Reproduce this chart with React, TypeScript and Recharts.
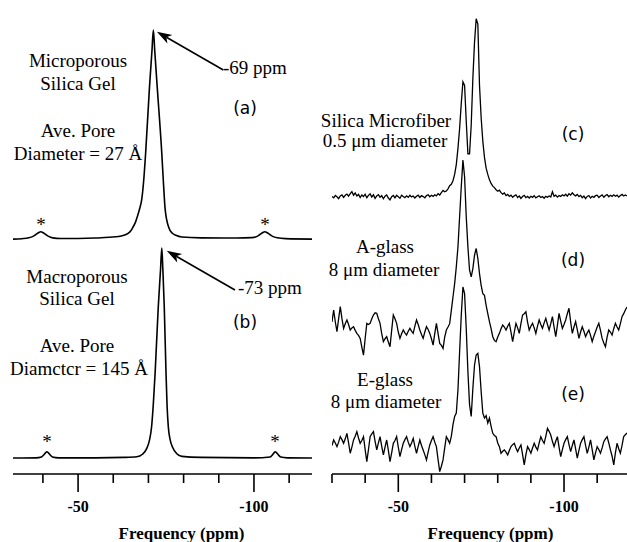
import { LineChart, Line, XAxis, YAxis, ReferenceLine } from "recharts";

const SERIF = "'Liberation Serif', 'Times New Roman', serif";
const SANS = "'DejaVu Sans', Verdana, sans-serif";

const leftTicks = [-40, -50, -60, -70, -80, -90, -100, -110];
const rightTicks = [-30, -40, -50, -60, -70, -80, -90, -100, -110];
const majorTicks = [-50, -100];

// (a) microporous silica gel
const aPpm = [
  -31.5, -34, -36, -37.2, -38, -38.7, -39.4, -40.1, -40.8, -41.6, -42.8, -45, -50, -55, -59,
  -61.5, -63, -64.2, -65, -65.6, -66.3, -66.9, -67.5, -68.1, -68.7, -69.2, -70.3, -71.0,
  -71.4, -71.8, -72.5, -73.8, -74.3, -74.7, -75.1, -75.6, -76.1, -76.8, -77.8, -79.5, -85,
  -95, -99.4, -100.9, -101.7, -102.4, -103.1, -103.8, -104.5, -105.3, -106.6, -109, -116.5,
];
const aInt = [
  0, 0.2, 0.6, 1.3, 2.2, 3.0, 3.5, 3.0, 2.2, 1.3, 0.6, 0.3, 0.3, 0.5, 0.9,
  1.2, 1.8, 2.7, 4.0, 5.7, 8, 11, 14.5, 19, 29, 41, 72.7, 90,
  100, 90, 72.7, 41, 26, 15.3, 10, 6.5, 4.3, 2.8, 1.8, 1.0, 0.6,
  0.5, 0.7, 1.3, 2.2, 3.0, 3.5, 3.0, 2.2, 1.3, 0.6, 0.2, 0,
];

// (b) macroporous silica gel
const bPpm = [
  -31.5, -38, -39.6, -40.3, -40.8, -41.1, -41.5, -42.0, -42.7, -44.5, -55, -63, -66.7, -68.3,
  -69.5, -70.3, -70.9, -71.4, -71.9, -72.8, -73.45, -73.8, -74.1, -74.5, -75.0, -75.3, -75.65,
  -76.2, -76.8, -78, -79.5, -85, -100, -104.6, -105.3, -105.75, -106.05, -106.4, -106.9,
  -107.6, -109.5, -116.5,
];
const bInt = [
  0, 0.1, 0.5, 1.6, 2.6, 3.0, 2.6, 1.6, 0.5, 0.1, 0.1, 0.3, 0.6, 1.8,
  4.5, 8.5, 14.9, 26, 40.5, 72, 90, 100, 90, 72, 40.5, 25, 14.9,
  8.5, 5.4, 2.2, 0.8, 0.3, 0.1, 0.5, 1.6, 2.6, 3.0, 2.6, 1.6,
  0.5, 0.1, 0,
];

// fibres, sampled every 0.5 ppm from -30 to -119
const rightStart = -30;
const rightStep = 0.5;

const cInt = [
  0.3, -0.5, 0.8, 0.1, -0.9, 0.6, 1.2, -0.2, 0.9, 1.6,
  0.4, 1.8, 2.9, 1.0, 2.2, 0.5, 1.4, -0.3, 1.1, 0.2,
  1.5, -0.4, 0.9, 1.7, 0.0, 1.2, -0.8, 0.6, 1.3, -0.2,
  0.7, -1.0, 0.4, 1.1, -0.6, -1.6, 0.2, 0.8, -0.5, 0.9,
  0.1, -0.7, 1.0, 0.3, -0.4, 0.6, -0.2, 0.9, 0.0, 0.5,
  -0.6, 0.4, 1.0, -0.3, 0.7, 0.2, -0.5, 0.8, 1.2, 0.1,
  0.9, 0.3, 1.2, 0.6, 1.8, 1.1, 2.4, 3.6, 2.9, 3.3,
  4.5, 6.2, 7.0, 9.0, 12.5, 18, 27, 38, 52, 64,
  62, 42, 24, 24, 40, 66, 86, 99, 96, 62,
  44, 31, 22, 16, 12.5, 9.5, 7.5, 6.0, 5.2, 4.0,
  3.2, 3.8, 2.4, 1.6, 2.2, 0.8, 1.4, 0.3, 1.0, -0.2,
  0.6, 1.2, -0.3, 0.5, -0.8, 0.2, 0.9, -0.4, 0.3, -0.6,
  0.4, -0.2, 0.7, -0.5, 0.1, 0.6, -0.3, 0.2, -0.7, 0.3,
  -0.2, 0.5, 0.0, 2.9, 0.4, 1.0, -0.1, 0.8, 0.3, 1.2,
  0.6, 1.5, 0.4, 1.8, 1.0, 2.3, 1.2, 0.6, 1.4, 0.2,
  0.9, -0.4, 0.5, -0.9, 0.3, 0.8, -0.6, 0.4, -0.2, 0.7,
  1.0, -0.3, 0.5, 1.1, -0.2, 0.8, 1.3, 0.1, 0.9, 0.3,
  1.2, 0.4, 1.0, -0.1, 0.8, 1.4, 0.5, 1.1, 0.6,
];

const dInt = [
  3, 10.2, 3, -2.8, 5, 12.2, 5, -0.8, 2, 4.2,
  1.5, -1.8, -0.5, 0.2, -2, -3.8, -5, -6.8, -12, -16.8,
  -7, 2.2, 1.5, 2.2, 5, 7.2, 8.5, 8.2, 5, 2.2,
  -4, -8.8, -7, -5.8, -9, -11.8, -2, 7.2, 5, 2.2,
  -3, -6.8, -4, -1.8, -3.5, -4.8, -2.5, -0.8, -2.5, -3.8,
  0.5, 4.2, 1.5, -1.8, -4.5, -6.8, -3, 0.2, -1.5, -3.8,
  -7, -10.8, -4, 2.2, -4, -9.8, -11, -12.8, -6, -1.8,
  0, 2, 10, 18, 26, 36, 48, 66, 84, 100,
  90, 66, 48, 34, 30, 35, 43, 47, 41, 32,
  25, 20, 19, 13, 8, 3.2, -1, -5.8, -8, -8.8,
  -6, -3.8, -1, 1.2, 0, -1.8, 0.5, 2.2, -3, -8.8,
  -3, 2.2, -0.5, -3.8, 2, 7.2, 8, 9.2, 3, -1.8,
  0.5, 2.2, -0.5, -3.8, 0.5, 4.2, 1.5, -0.8, 2.5, 5.2,
  1.5, -1.8, 2, 6.2, 0, -5.8, 1, 8.2, 3.5, -0.8,
  1.5, 4.2, 8, 11.2, 3, -3.8, 0, 3.2, -1.5, -6.8,
  -3, 0.2, -2.5, -5.8, -3.5, -1.8, -5, -8.8, -5.5, -2.8,
  0, 2.2, -2, -6.8, -9.5, -11.8, -6, -1.8, -3, -4.8,
  -1, 2.2, 0, -1.8, 2, 6.2, 8, 10.2, 12,
];

const eInt = [
  1.5, 4.8, 3, 0.8, 3.5, 6.8, 5, 2.8, 5.5, 8.8,
  3, -3.2, 0.5, 4.8, 7, 9.8, 6, 2.8, 4.5, 6.8,
  -1, -8.2, -1, 6.8, 8.5, 9.8, 4, -1.2, 3, 6.8,
  1, -4.2, 0.5, 4.8, -1.5, -8.2, -3, 2.8, 4.5, 6.8,
  0.5, -5.2, -1, 2.8, 5, 6.8, 3.5, 0.8, 3, 5.8,
  1, -3.2, 1, 4.8, 1.5, -1.2, -4, -7.2, -2.5, 1.8,
  4.5, 6.8, 3.5, 0.8, -7, -14.3, -11, -7.2, 0, 6.8,
  5, 2.8, 7, 14, 19, 21, 35, 58, 80, 97,
  93, 72, 46, 26, 19, 36, 50, 56, 57, 49,
  34, 21, 18, 19.5, 15, 18, 13, 8.8, 7.5, 6.8,
  3, 0.8, -3.2, -2, -1.2, -2.5, -4.2, -1.5, 0.8, 2,
  2.8, 0, -2.2, 0, 1.8, -4, -10.2, -4, 0.8, -1,
  -3.2, 0, 2.8, 0.5, -1.2, 3, 6.8, 4.5, 2.8, 7,
  11.8, 10, 7.8, 4, 0.8, 4, 6.8, 0.5, -5.2, -1,
  2.8, 5, 6.8, 2, -2.2, 1.5, 4.8, -0.5, -6.2, -1.5,
  2.8, 5, 6.8, 1.5, -3.2, 0.5, 4.8, -1, -7.2, -3,
  0.8, -1, -3.2, 0, 3.8, 5.5, 6.8, 3, -1.2, -5,
  -10.2, -3, 2.8, -0.5, -3.2, 1.5, 6.8, 8, 9,
];

const aData = aPpm.map((ppm, i) => ({ ppm, v: aInt[i] }));
const bData = bPpm.map((ppm, i) => ({ ppm, v: bInt[i] }));
const rightData = cInt.map((c, i) => ({
  ppm: rightStart - i * rightStep,
  c,
  d: dInt[i],
  e: eInt[i],
}));

function FreqTick({ x, y, payload }: any) {
  const major = majorTicks.includes(payload.value);
  return (
    <g>
      <line x1={x} x2={x} y1={y} y2={y + (major ? 18 : 9)} stroke="#000" strokeWidth={1.6} />
      {major && (
        <text
          x={x}
          y={y + 38}
          textAnchor="middle"
          fontFamily={SERIF}
          fontWeight="bold"
          fontSize={16}
          fill="#000"
        >
          {payload.value}
        </text>
      )}
    </g>
  );
}

function Arrow(props: any) {
  const { x1, y1, x2, y2 } = props;
  const ang = Math.atan2(y2 - y1, x2 - x1);
  const len = 15;
  const half = 5;
  const bx = x2 - len * Math.cos(ang);
  const by = y2 - len * Math.sin(ang);
  const nx = bx + 4 * Math.cos(ang);
  const ny = by + 4 * Math.sin(ang);
  const px = -Math.sin(ang) * half;
  const py = Math.cos(ang) * half;
  return (
    <g>
      <line x1={x1} y1={y1} x2={nx} y2={ny} stroke="#000" strokeWidth={1.6} />
      <polygon
        points={`${x2},${y2} ${bx + px},${by + py} ${nx},${ny} ${bx - px},${by - py}`}
        fill="#000"
      />
    </g>
  );
}

const axisLabel = (dx: number) => ({
  value: "Frequency (ppm)",
  position: "insideBottom" as const,
  offset: 3,
  dx,
  fill: "#000",
  fontSize: 17,
  fontWeight: "bold",
  fontFamily: SERIF,
});

const serifText = { fontFamily: SERIF, fontSize: 19, fill: "#000" };
const sansText = { fontFamily: SANS, fontSize: 17, fill: "#000" };

export default function App() {
  return (
    <div
      style={{
        position: "absolute",
        left: 0,
        top: 0,
        width: 627,
        height: 542,
        background: "#fff",
        overflow: "hidden",
      }}
    >
      <div style={{ position: "absolute", left: 0, top: 0 }}>
        <LineChart width={320} height={542} margin={{ top: 0, right: 8, bottom: 0, left: 13 }}>
          <XAxis
            type="number"
            dataKey="ppm"
            domain={[-116.5, -31.5]}
            allowDataOverflow
            reversed
            ticks={leftTicks}
            interval={0}
            tickSize={0}
            tickMargin={0}
            tickLine={false}
            tick={<FreqTick />}
            axisLine={{ stroke: "#000", strokeWidth: 1.6 }}
            height={68}
            label={axisLabel(19)}
          />
          <YAxis yAxisId="a" hide domain={[-112.4, 114.4]} allowDataOverflow />
          <YAxis yAxisId="b" hide domain={[-7.6, 218.1]} allowDataOverflow />
          <Line
            data={aData}
            yAxisId="a"
            dataKey="v"
            type="monotone"
            stroke="#000"
            strokeWidth={1.6}
            dot={false}
            activeDot={false}
            isAnimationActive={false}
          />
          <Line
            data={bData}
            yAxisId="b"
            dataKey="v"
            type="monotone"
            stroke="#000"
            strokeWidth={1.6}
            dot={false}
            activeDot={false}
            isAnimationActive={false}
          />
          <ReferenceLine
            yAxisId="a"
            segment={[
              { x: -91.3, y: 80.9 },
              { x: -72.4, y: 99.2 },
            ]}
            shape={Arrow}
          />
          <ReferenceLine
            yAxisId="b"
            segment={[
              { x: -94.6, y: 80 },
              { x: -75.2, y: 98.7 },
            ]}
            shape={Arrow}
          />
        </LineChart>
      </div>
      <div style={{ position: "absolute", left: 310, top: 0 }}>
        <LineChart
          width={317}
          height={542}
          data={rightData}
          margin={{ top: 0, right: 0, bottom: 0, left: 22 }}
        >
          <XAxis
            type="number"
            dataKey="ppm"
            domain={[-119, -30]}
            allowDataOverflow
            reversed
            ticks={rightTicks}
            interval={0}
            tickSize={0}
            tickMargin={0}
            tickLine={false}
            tick={<FreqTick />}
            axisLine={{ stroke: "#000", strokeWidth: 1.6 }}
            height={68}
            label={axisLabel(11)}
          />
          <YAxis yAxisId="c" hide domain={[-153.9, 109.4]} allowDataOverflow />
          <YAxis yAxisId="d" hide domain={[-88.0, 195.8]} allowDataOverflow />
          <YAxis yAxisId="e" hide domain={[-15.7, 269.9]} allowDataOverflow />
          {(["c", "d", "e"] as const).map((k) => (
            <Line
              key={k}
              yAxisId={k}
              dataKey={k}
              type="linear"
              stroke="#000"
              strokeWidth={1.3}
              dot={false}
              activeDot={false}
              isAnimationActive={false}
            />
          ))}
        </LineChart>
      </div>
      <svg
        width={627}
        height={542}
        style={{ position: "absolute", left: 0, top: 0, pointerEvents: "none" }}
      >
        <g textAnchor="middle" {...serifText}>
          <text x={78} y={67}>Microporous</text>
          <text x={78} y={90}>Silica Gel</text>
          <text x={78} y={137}>Ave. Pore</text>
          <text x={78} y={160}>Diameter = 27 Å</text>
          <text x={41} y={231}>*</text>
          <text x={265} y={231}>*</text>
          <text x={77} y={283}>Macroporous</text>
          <text x={77} y={305}>Silica Gel</text>
          <text x={77} y={352}>Ave. Pore</text>
          <text x={79} y={375}>Diamctcr = 145 Å</text>
          <text x={47} y={448}>*</text>
          <text x={275} y={448}>*</text>
          <text x={386} y={127}>Silica Microfiber</text>
          <text x={385} y={147}>0.5 μm diameter</text>
          <text x={385} y={253}>A-glass</text>
          <text x={384} y={276}>8 μm diameter</text>
          <text x={385} y={386}>E-glass</text>
          <text x={386} y={408}>8 μm diameter</text>
        </g>
        <g {...serifText}>
          <text x={223} y={74}>-69 ppm</text>
          <text x={238} y={294}>-73 ppm</text>
        </g>
        <g textAnchor="middle" {...sansText}>
          <text x={245} y={114}>(a)</text>
          <text x={245} y={328}>(b)</text>
          <text x={573} y={140}>(c)</text>
          <text x={573} y={266}>(d)</text>
          <text x={573} y={400}>(e)</text>
        </g>
      </svg>
    </div>
  );
}
